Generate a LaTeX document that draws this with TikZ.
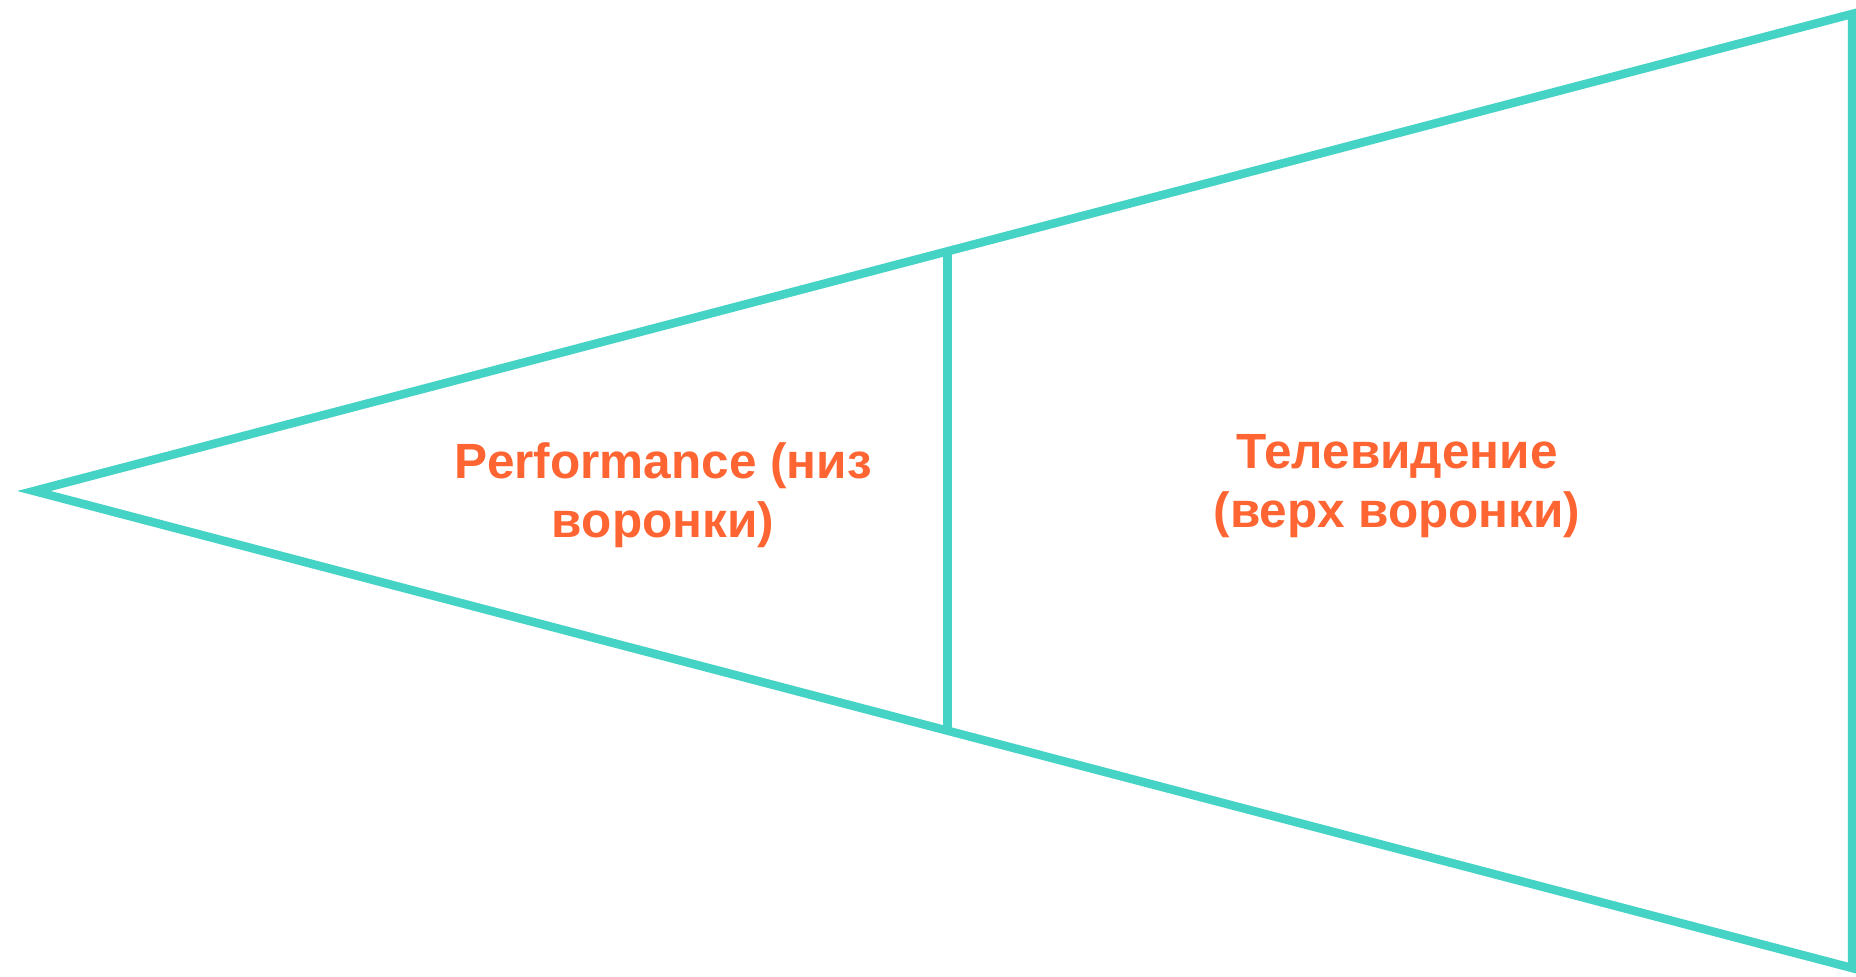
\documentclass[tikz,border=0pt]{standalone}
\usepackage{fontspec}
\setmainfont{Liberation Sans}
\usetikzlibrary{calc}
\definecolor{funnelteal}{RGB}{69,211,197}
\definecolor{labelorange}{RGB}{255,101,51}
\begin{document}
\begin{tikzpicture}[x=1pt,y=1pt,
  edge/.style={draw=funnelteal,line width=8.5pt,line join=miter},
  funnellabel/.style={text=labelorange,font=\fontsize{49.5}{59}\selectfont\bfseries,align=center,inner sep=0pt}]
\useasboundingbox[fill=white] (0,0) rectangle (1856,977);
% funnel outline
\coordinate (tip) at (34,486);
\coordinate (topright) at (1852,963);
\coordinate (botright) at (1852,9);
\draw[edge] (tip) -- (topright) -- (botright) -- cycle;
% divider between the two stages
\coordinate (divtop) at ($(tip)!0.5025!(topright)$);
\coordinate (divbot) at ($(tip)!0.5025!(botright)$);
\draw[edge] (divtop) -- (divbot);
% stage labels
\node[funnellabel] (bottomstage) at (663,482) {Performance (низ\\воронки)};
\node[funnellabel] (topstage) at (1397,491) {Телевидение\\(верх воронки)};
\end{tikzpicture}
\end{document}
